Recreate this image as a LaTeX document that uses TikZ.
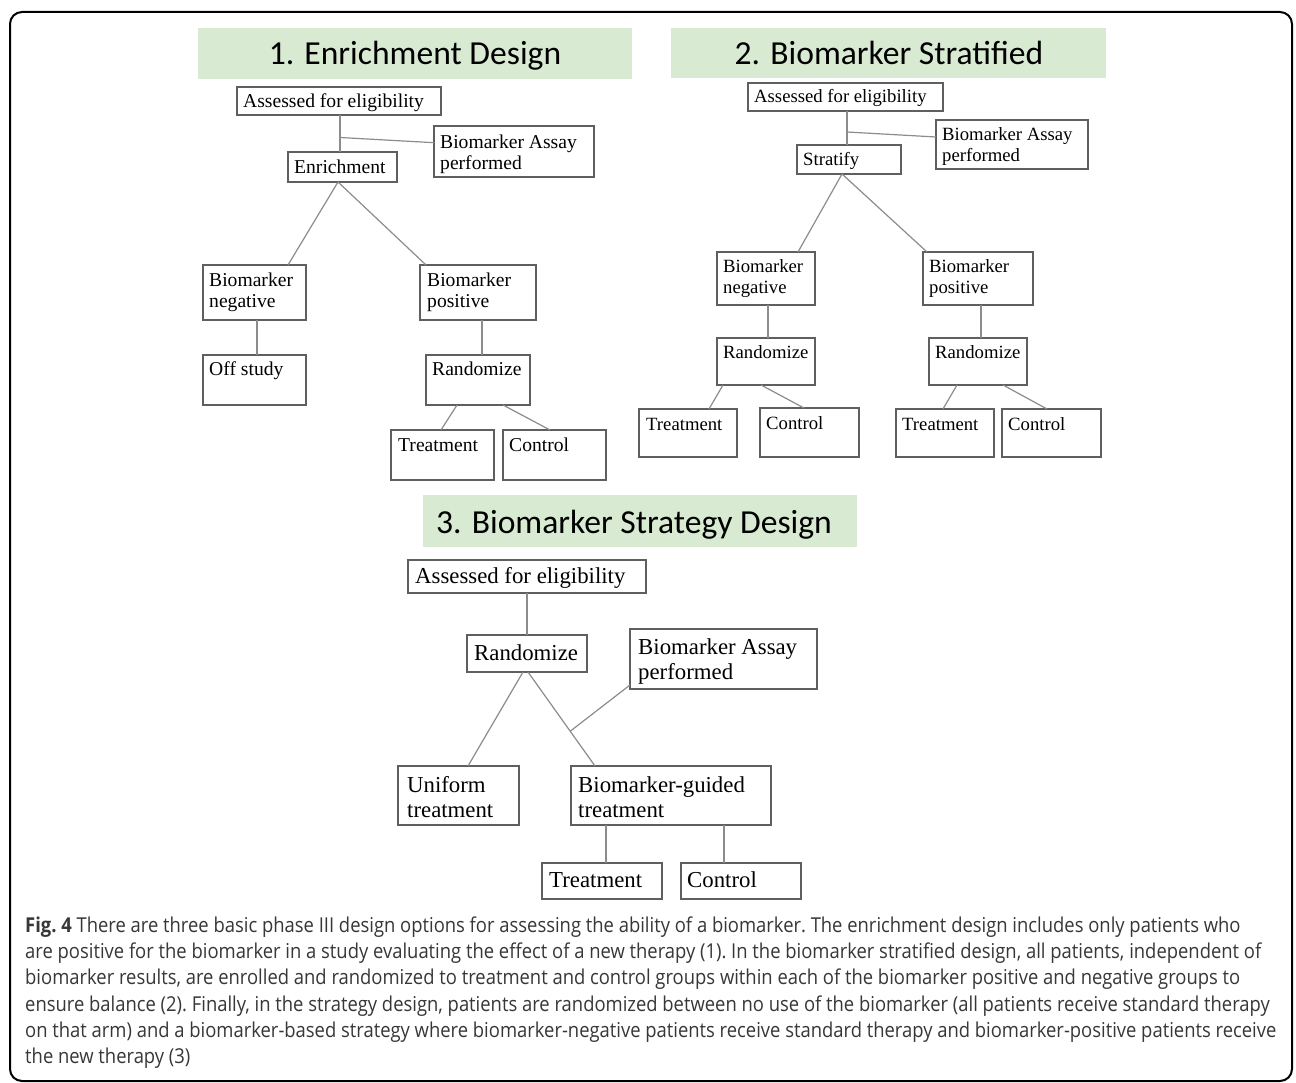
\documentclass[tikz,border=0pt]{standalone}
\usepackage{fontspec}
\setmainfont{Liberation Serif}
\newfontfamily\capfont[FakeStretch=0.898]{Open Sans}
\newfontfamily\headfont{Carlito}
\usetikzlibrary{calc}
\definecolor{hdrgreen}{RGB}{217,234,211}
\definecolor{boxline}{RGB}{95,95,95}
\definecolor{conline}{RGB}{140,140,140}
\definecolor{captext}{RGB}{55,55,55}
\tikzset{
  boxst/.style={draw=boxline, line width=1.3, inner sep=0pt, outer sep=0pt, fill=white},
  conn/.style={draw=conline, line width=1.2},
  hdr/.style={fill=hdrgreen, inner sep=0pt, outer sep=0pt},
  headtxt/.style={inner sep=0pt, font=\headfont\fontsize{33.6}{38}\selectfont},
  lblA/.style={inner sep=0pt, align=left, font=\fontsize{19.6}{21.5}\selectfont},
  lblB/.style={inner sep=0pt, align=left, font=\fontsize{18.7}{21}\selectfont},
  lblC/.style={inner sep=0pt, align=left, font=\fontsize{22.8}{25.5}\selectfont},
  captxt/.style={inner sep=0pt, anchor=base west, text=captext, font=\capfont\frenchspacing\fontsize{20.5}{26}\selectfont}
}
% #1 style, #2 name, #3 x1, #4 y1, #5 x2, #6 y2, #7 text x, #8 first baseline y, #9 text
\newcommand\mybox[9]{%
  \node[boxst, minimum width={#5-#3}, minimum height={#6-#4}, anchor=north west] (#2) at (#3,#4) {};
  \node[#1, anchor=north west] (#2-t) at (#7,#8-16) {\rule{0pt}{16pt}#9};
}
\begin{document}
\begin{tikzpicture}[x=1pt,y=-1pt]
\useasboundingbox[fill=white] (0,0) rectangle (1296,1083);
\draw[line width=2, rounded corners=12] (10,12) rectangle (1292,1081);

% headers
\node[hdr, minimum width=434, minimum height=51, anchor=north west] (h1) at (198,28) {};
\node[headtxt, anchor=base] (h1t) at (415,65) {1. Enrichment Design};
\node[hdr, minimum width=435, minimum height=50, anchor=north west] (h2) at (671,28) {};
\node[headtxt, anchor=base] (h2t) at (889,65) {2. Biomarker Stratified};
\node[hdr, minimum width=434, minimum height=52, anchor=north west] (h3) at (423,495) {};
\node[headtxt, anchor=base] (h3t) at (634,533) {3. Biomarker Strategy Design};

% panel 1
\mybox{lblA}{a1}{237}{87}{441}{115}{243}{107}{Assessed for eligibility}
\mybox{lblA}{e1}{288}{152}{397}{182}{294}{173}{Enrichment}
\mybox{lblA}{bap1}{434}{126}{594}{177}{440}{148}{Biomarker Assay\\performed}
\mybox{lblA}{bn1}{203}{265}{306}{320}{209}{286}{Biomarker\\negative}
\mybox{lblA}{bp1}{420}{265}{536}{320}{427}{286}{Biomarker\\positive}
\mybox{lblA}{off1}{203}{355}{306}{405}{209}{375}{Off study}
\mybox{lblA}{r1}{426}{355}{530}{405}{432}{375}{Randomize}
\mybox{lblA}{t1}{391}{430}{494}{480}{398}{451}{Treatment}
\mybox{lblA}{c1}{503}{430}{606}{480}{509}{451}{Control}

\coordinate (j1) at (340,137.5);
\draw[conn] (a1.south -| j1) -- (e1.north -| j1);
\draw[conn] (j1) -- ($(bap1.north west)+(0,16.7)$);
\draw[conn] ($(e1.south west)+(50,0)$) -- ($(bn1.north west)+(85,0)$);
\draw[conn] ($(e1.south west)+(50,0)$) -- ($(bp1.north west)+(6,0)$);
\draw[conn] ($(bn1.south west)+(54,0)$) -- ($(off1.north west)+(54,0)$);
\draw[conn] ($(bp1.south west)+(62,0)$) -- ($(r1.north west)+(56,0)$);
\draw[conn] ($(r1.south west)+(31,0)$) -- ($(t1.north west)+(50,0)$);
\draw[conn] ($(r1.south west)+(77,0)$) -- ($(c1.north west)+(47,0)$);

% panel 2
\mybox{lblB}{a2}{748}{83}{943}{111}{754}{102}{Assessed for eligibility}
\mybox{lblB}{s2}{797}{145}{901}{174}{803}{165}{Stratify}
\mybox{lblB}{bap2}{936}{120}{1088}{169}{942}{140}{Biomarker Assay\\performed}
\mybox{lblB}{bn2}{717}{252}{815}{305}{723}{272}{Biomarker\\negative}
\mybox{lblB}{bp2}{923}{252}{1033}{305}{929}{272}{Biomarker\\positive}
\mybox{lblB}{rl2}{717}{338}{815}{385}{723}{358}{Randomize}
\mybox{lblB}{rr2}{929}{338}{1027}{385}{935}{358}{Randomize}
\mybox{lblB}{tl2}{639}{409}{737}{457}{646}{430}{Treatment}
\mybox{lblB}{cl2}{760}{408}{859}{457}{766}{429}{Control}
\mybox{lblB}{tr2}{896}{409}{994}{457}{902}{430}{Treatment}
\mybox{lblB}{cr2}{1002}{409}{1101}{457}{1008}{430}{Control}

\coordinate (j2) at (847,132);
\draw[conn] (a2.south -| j2) -- (s2.north -| j2);
\draw[conn] (j2) -- ($(bap2.north west)+(0,17)$);
\draw[conn] ($(s2.south west)+(45,0)$) -- ($(bn2.north west)+(81,0)$);
\draw[conn] ($(s2.south west)+(45,0)$) -- ($(bp2.north west)+(4,0)$);
\draw[conn] ($(bn2.south west)+(51,0)$) -- ($(rl2.north west)+(51,0)$);
\draw[conn] ($(bp2.south west)+(58,0)$) -- ($(rr2.north west)+(52,0)$);
\draw[conn] ($(rl2.south west)+(6,0)$) -- ($(tl2.north west)+(70,0)$);
\draw[conn] ($(rl2.south west)+(44,0)$) -- ($(cl2.north west)+(44,0)$);
\draw[conn] ($(rr2.south west)+(28,0)$) -- ($(tr2.north west)+(47,0)$);
\draw[conn] ($(rr2.south west)+(74,0)$) -- ($(cr2.north west)+(45,0)$);

% panel 3
\mybox{lblC}{a3}{408}{560}{646}{593}{415}{583}{Assessed for eligibility}
\mybox{lblC}{r3}{467}{635}{587}{672}{474}{660}{Randomize}
\mybox{lblC}{bap3}{630}{629}{817}{689}{638}{654}{Biomarker Assay\\performed}
\mybox{lblC}{u3}{398}{766}{519}{825}{407}{792}{Uniform\\treatment}
\mybox{lblC}{bg3}{571}{766}{771}{825}{578}{792}{Biomarker-guided\\treatment}
\mybox{lblC}{t3}{542}{863}{662}{899}{549}{887}{Treatment}
\mybox{lblC}{c3}{681}{863}{801}{899}{687}{887}{Control}

\draw[conn] ($(a3.south west)+(119,0)$) -- ($(r3.north west)+(60,0)$);
\draw[conn] ($(r3.south west)+(56,0)$) -- ($(u3.north west)+(70,0)$);
\coordinate (rb3) at ($(r3.south west)+(61,0)$);
\coordinate (bt3) at ($(bg3.north west)+(24,0)$);
\draw[conn] (rb3) -- (bt3);
\coordinate (m3) at ($(rb3)!0.63!(bt3)$);
\draw[conn] ($(bap3.north west)+(0,56)$) -- (m3);
\draw[conn] ($(bg3.south west)+(35,0)$) -- ($(t3.north west)+(64,0)$);
\draw[conn] ($(bg3.south west)+(153,0)$) -- ($(c3.north west)+(43,0)$);

% caption
\node[captxt] (cap1) at (25,932) {\textbf{Fig. 4} There are three basic phase III design options for assessing the ability of a biomarker. The enrichment design includes only patients who};
\node[captxt] (cap2) at (25,958) {are positive for the biomarker in a study evaluating the effect of a new therapy (1). In the biomarker stratified design, all patients, independent of};
\node[captxt] (cap3) at (25,984) {biomarker results, are enrolled and randomized to treatment and control groups within each of the biomarker positive and negative groups to};
\node[captxt] (cap4) at (25,1011) {ensure balance (2). Finally, in the strategy design, patients are randomized between no use of the biomarker (all patients receive standard therapy};
\node[captxt] (cap5) at (25,1037) {on that arm) and a biomarker-based strategy where biomarker-negative patients receive standard therapy and biomarker-positive patients receive};
\node[captxt] (cap6) at (25,1063) {the new therapy (3)};
\end{tikzpicture}
\end{document}
